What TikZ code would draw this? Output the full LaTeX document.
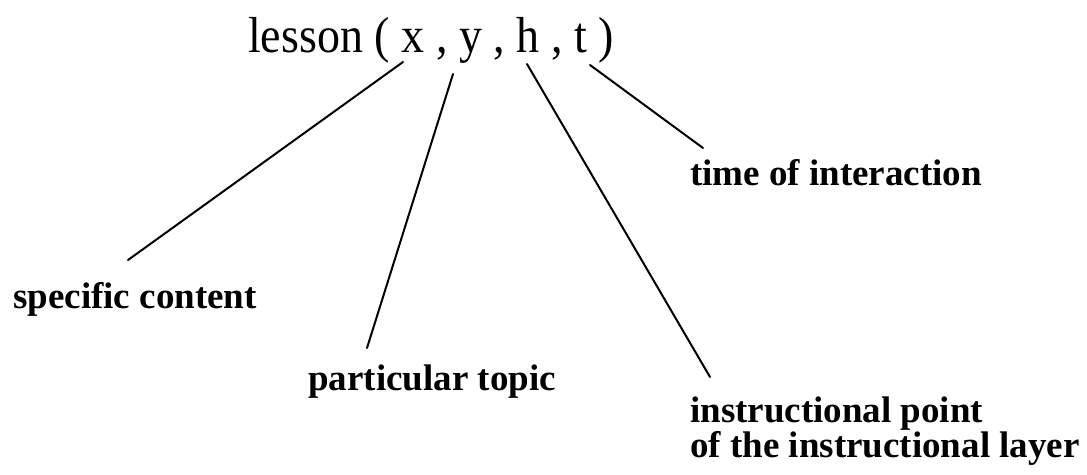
\documentclass[tikz,border=0pt]{standalone}
\usepackage{fontspec}
\setmainfont{Liberation Serif}
\begin{document}
\begin{tikzpicture}[x=1pt,y=-1pt,
  lbl/.style={anchor=base west,inner sep=0pt,font=\fontsize{37}{35}\selectfont\bfseries},
  ttl/.style={anchor=base west,inner sep=0pt,font=\fontsize{46}{50}\selectfont},
  conn/.style={line width=2pt,line cap=round}]
\useasboundingbox (0,0) rectangle (1087,474);
\node[ttl] (title) at (248,52) {\scalebox{1}[1.1]{lesson ( x , y , h , t )}};
\node[lbl] (spec) at (13,308) {specific content};
\node[lbl] (part) at (308,390) {particular topic};
\node[lbl] (time) at (690,185) {time of interaction};
\node[lbl] (inst) at (690,422) {instructional point};
\node[lbl] (inst2) at (690,457) {of the instructional layer};
\coordinate (xs) at (403,62);
\coordinate (xe) at (128,260);
\coordinate (ys) at (453,74);
\coordinate (ye) at (367,348);
\coordinate (hs) at (527,64);
\coordinate (he) at (710,377);
\coordinate (ts) at (590,65);
\coordinate (te) at (703,148);
\draw[conn] (xs) -- (xe);
\draw[conn] (ys) -- (ye);
\draw[conn] (hs) -- (he);
\draw[conn] (ts) -- (te);
\end{tikzpicture}
\end{document}
